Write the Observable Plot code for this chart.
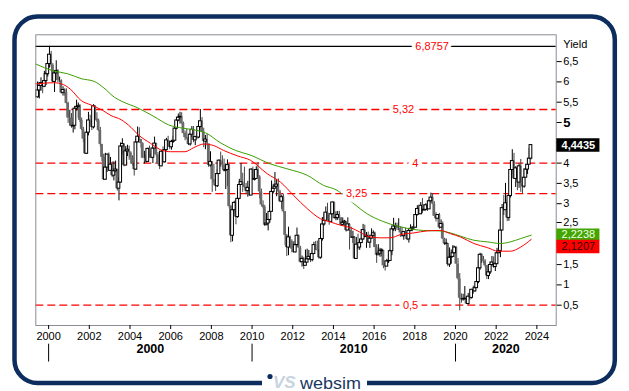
<!DOCTYPE html>
<html><head><meta charset="utf-8">
<script src="https://cdn.jsdelivr.net/npm/d3@7"></script>
<script src="https://cdn.jsdelivr.net/npm/@observablehq/plot@0.6"></script>
<style>
html,body{margin:0;padding:0;background:#fff;}
#wrap{position:relative;width:629px;height:391px;overflow:hidden;background:#fff;}
#wrap svg{position:absolute;left:0;top:0;}
</style></head><body><div id="wrap"></div>
<script>
// ---------- DATA ----------
const startYear = 1999, startMonth = 6; // first monthly candle: June 1999
const firstOpen = 5.62;
const closes = [
  5.79,5.90,5.97,5.88,6.02,6.19,6.44,
  6.67,6.41,6.00,6.21,6.27,6.03,6.03,5.73,5.80,5.75,5.47,5.11,
  5.11,4.90,4.92,5.34,5.38,5.41,5.05,4.83,4.59,4.23,4.75,5.05,
  5.03,4.88,5.40,5.09,5.04,4.80,4.46,4.14,3.59,3.89,4.21,3.81,
  3.96,3.69,3.80,3.84,3.37,3.52,4.41,4.47,3.94,4.29,4.33,4.25,
  4.13,3.97,3.84,4.51,4.65,4.58,4.48,4.12,4.12,4.03,4.35,4.22,
  4.13,4.36,4.48,4.20,3.98,3.92,4.28,4.02,4.32,4.56,4.49,4.39,
  4.52,4.55,4.85,5.05,5.12,5.14,4.98,4.73,4.63,4.60,4.46,4.70,
  4.82,4.56,4.64,4.63,4.89,5.03,4.76,4.53,4.58,4.47,3.94,4.03,
  3.59,3.51,3.43,3.73,4.06,3.98,3.95,3.81,3.83,3.95,2.93,2.21,
  2.84,3.02,2.67,3.12,3.46,3.53,3.48,3.40,3.31,3.39,3.20,3.84,
  3.59,3.61,3.83,3.66,3.29,2.97,2.91,2.47,2.51,2.60,2.80,3.29,
  3.37,3.42,3.47,3.29,3.05,3.16,2.80,2.22,1.92,2.17,2.07,1.88,
  1.80,1.98,2.21,1.91,1.56,1.64,1.47,1.55,1.63,1.69,1.61,1.76,
  1.98,1.87,1.85,1.67,2.13,2.49,2.58,2.78,2.61,2.55,2.74,3.03,
  2.64,2.65,2.72,2.65,2.48,2.53,2.56,2.34,2.49,2.34,2.16,2.17,
  1.64,1.99,1.92,2.03,2.12,2.35,2.18,2.21,2.04,2.14,2.21,2.27,
  1.92,1.73,1.77,1.83,1.85,1.47,1.45,1.58,1.59,1.83,2.37,2.44,
  2.45,2.39,2.39,2.28,2.20,2.30,2.29,2.12,2.33,2.38,2.41,2.41,
  2.72,2.87,2.74,2.95,2.83,2.85,2.96,2.86,3.06,3.15,2.99,2.69,
  2.63,2.72,2.41,2.50,2.13,2.01,2.02,1.50,1.67,1.69,1.78,1.92,
  1.51,1.15,0.67,0.64,0.65,0.66,0.53,0.71,0.68,0.88,0.84,0.92,
  1.07,1.41,1.74,1.63,1.58,1.47,1.22,1.31,1.49,1.55,1.44,1.51,
  1.78,1.83,2.34,2.89,2.84,3.01,2.65,3.19,3.83,4.05,3.61,3.87,
  3.52,3.92,3.47,3.42,3.64,3.84,3.96,4.11,4.4435
];
const highs = [
  6.00,5.98,6.10,6.00,6.26,6.24,6.47,
  6.8757,6.75,6.45,6.28,6.52,6.30,6.12,6.05,5.88,5.83,5.83,5.50,
  5.30,5.22,5.00,5.40,5.55,5.48,5.44,5.11,4.88,4.70,4.85,5.25,
  5.18,5.07,5.44,5.41,5.24,5.08,4.88,4.39,4.22,4.24,4.22,4.25,
  4.14,4.03,4.03,4.05,3.85,3.64,4.50,4.60,4.46,4.41,4.44,4.42,
  4.28,4.18,3.98,4.58,4.89,4.87,4.56,4.50,4.29,4.20,4.37,4.42,
  4.30,4.38,4.64,4.49,4.26,4.10,4.31,4.40,4.34,4.61,4.66,4.55,
  4.54,4.66,4.87,5.10,5.21,5.25,5.24,5.01,4.79,4.83,4.64,4.73,
  4.90,4.90,4.66,4.77,4.92,5.32,5.12,4.86,4.68,4.71,4.46,4.28,
  4.03,3.97,3.59,3.84,4.08,4.27,4.18,4.10,3.98,4.08,3.98,2.96,
  2.86,3.06,3.07,3.14,3.60,3.99,3.75,3.90,3.50,3.55,3.56,3.86,
  3.90,3.75,3.91,4.01,3.69,3.36,3.07,2.96,2.76,2.61,2.97,3.56,
  3.48,3.77,3.59,3.61,3.33,3.21,3.23,2.81,2.24,2.42,2.20,2.11,
  2.06,2.08,2.40,2.23,1.95,1.71,1.68,1.86,1.88,1.85,1.76,1.85,
  2.05,2.07,2.08,1.87,2.20,2.66,2.75,2.92,3.01,2.72,2.80,3.04,
  3.04,2.80,2.81,2.81,2.66,2.65,2.59,2.56,2.65,2.51,2.42,2.32,
  2.19,2.17,2.25,2.10,2.36,2.49,2.47,2.29,2.30,2.18,2.38,2.33,
  2.30,1.99,1.99,1.90,1.89,1.71,1.59,1.63,1.74,1.87,2.40,2.64,
  2.52,2.52,2.63,2.43,2.42,2.32,2.40,2.33,2.35,2.48,2.43,2.50,
  2.73,2.95,2.91,3.03,3.13,2.98,3.00,3.01,3.10,3.26,3.24,3.05,
  2.78,2.73,2.76,2.60,2.55,2.15,2.13,2.02,1.91,1.86,1.97,1.95,
  1.94,1.65,1.28,0.78,0.77,0.96,0.70,0.79,0.72,0.89,0.97,0.96,
  1.19,1.61,1.78,1.77,1.70,1.62,1.48,1.38,1.56,1.70,1.69,1.55,
  1.90,2.06,2.56,2.98,3.20,3.50,3.09,3.20,4.00,4.33,4.24,3.91,
  3.89,3.98,4.09,3.61,3.86,3.86,4.09,4.36,4.45
];
const lows = [
  5.60,5.58,5.77,5.71,5.86,5.91,6.12,
  6.34,6.36,5.98,5.74,6.17,5.98,5.98,5.70,5.65,5.65,5.45,4.98,
  4.91,4.86,4.74,4.82,5.28,5.10,5.00,4.80,4.50,4.22,4.21,4.67,
  4.97,4.80,4.84,5.07,5.00,4.78,4.40,4.04,3.57,3.58,3.77,3.80,
  3.82,3.64,3.56,3.76,3.31,3.07,3.51,4.19,3.91,3.93,4.16,4.07,
  3.98,3.93,3.68,3.82,4.50,4.55,4.37,4.11,3.98,3.99,4.02,4.12,
  4.11,3.99,4.36,4.16,3.97,3.84,3.91,4.01,4.00,4.30,4.39,4.33,
  4.32,4.49,4.55,4.82,5.02,4.96,4.96,4.71,4.55,4.58,4.43,4.42,
  4.63,4.50,4.43,4.58,4.60,4.85,4.75,4.38,4.33,4.42,3.89,3.89,
  3.28,3.45,3.30,3.40,3.72,3.90,3.84,3.78,3.35,3.42,2.89,2.04,
  2.06,2.73,2.48,2.64,3.10,3.45,3.28,3.38,3.22,3.16,3.19,3.20,
  3.58,3.56,3.61,3.65,3.12,2.94,2.87,2.44,2.46,2.33,2.52,2.81,
  3.24,3.37,3.17,3.27,3.04,2.86,2.77,1.97,1.70,1.72,1.91,1.79,
  1.79,1.79,1.96,1.90,1.54,1.44,1.38,1.48,1.59,1.61,1.55,1.57,
  1.80,1.85,1.82,1.63,1.63,2.08,2.45,2.57,2.60,2.47,2.55,2.73,
  2.63,2.58,2.59,2.59,2.44,2.44,2.44,2.30,2.33,1.86,2.15,2.02,
  1.64,1.65,1.86,1.85,2.09,2.10,2.16,1.90,2.02,1.90,2.13,2.14,
  1.92,1.53,1.73,1.68,1.69,1.40,1.34,1.50,1.53,1.59,1.72,2.32,
  2.31,2.34,2.34,2.17,2.18,2.10,2.24,2.09,2.03,2.31,2.31,2.34,
  2.40,2.70,2.73,2.73,2.76,2.83,2.82,2.81,2.86,3.04,2.98,2.68,
  2.55,2.61,2.37,2.39,2.12,1.97,1.97,1.45,1.43,1.51,1.69,1.76,
  1.51,1.12,0.36,0.55,0.60,0.62,0.52,0.50,0.62,0.65,0.77,0.82,
  0.91,1.03,1.36,1.53,1.53,1.43,1.13,1.13,1.26,1.47,1.41,1.33,
  1.63,1.78,1.67,2.33,2.71,2.88,2.56,2.57,3.14,3.72,3.60,3.40,
  3.32,3.38,3.28,3.25,3.38,3.64,3.72,3.96,4.08
];
// long moving average (green)
const greenT = [1999.37,2000.25,2000.94,2001.6,2002.25,2002.72,2003.24,2003.6,2004.38,2005.17,2005.9,2006.6,2007.13,2007.7,2008.45,2009.2,2009.9,2010.9,2011.72,2012.71,2013.52,2014.18,2014.7,2015.0,2015.66,2016.4,2017.2,2017.9,2018.44,2019.2,2019.76,2020.25,2020.9,2021.56,2022.21,2022.7,2023.2,2023.72];
const greenV = [6.44,6.27,6.20,6.08,6.01,5.85,5.62,5.52,5.36,5.15,4.94,4.86,4.82,4.75,4.50,4.31,4.20,3.98,3.86,3.70,3.45,3.33,3.12,3.00,2.75,2.57,2.44,2.37,2.34,2.33,2.28,2.20,2.10,2.06,2.02,2.06,2.14,2.2238];
// shorter moving average (red)
const redT = [1999.37,2000.25,2000.74,2001.07,2001.6,2002.09,2002.65,2003.07,2003.56,2004.05,2004.4,2005.0,2005.5,2006.0,2006.7,2007.13,2007.63,2008.12,2008.61,2009.27,2009.92,2010.74,2011.4,2012.05,2012.71,2013.36,2013.85,2014.35,2014.84,2015.3,2015.66,2016.31,2016.8,2017.3,2017.95,2018.61,2019.26,2019.76,2020.25,2020.9,2021.56,2022.1,2022.7,2023.2,2023.72];
const redV = [5.95,5.98,5.93,5.82,5.54,5.43,5.30,5.17,5.07,4.88,4.70,4.49,4.33,4.28,4.28,4.38,4.47,4.43,4.31,4.18,4.07,3.74,3.53,3.20,2.88,2.63,2.55,2.47,2.41,2.30,2.20,2.16,2.16,2.24,2.28,2.33,2.34,2.26,2.18,2.02,1.92,1.83,1.83,1.93,2.1207];
const levelValues = [6.8757, 5.32, 4, 3.25, 0.5];
const levelLabels = ["6,8757", "5,32", "4", "3,25", "0,5"];
const yTicks = [0.5,1,1.5,2,2.5,3,3.5,4,4.5,5,5.5,6,6.5];
const xTicks = [2000,2002,2004,2006,2008,2010,2012,2014,2016,2018,2020,2022,2024];
const decades = [2000, 2010, 2020];
const lastValue = 4.4435, greenLast = 2.2238, redLast = 2.1207;
const yLabel = "Yield";

// ---------- BUILD ----------
const fmt = v => String(v).replace(".", ",");
const candles = closes.map((c, i) => {
  const t = startYear + (startMonth - 1 + i + 0.5) / 12;
  const o = i === 0 ? firstOpen : closes[i - 1];
  return {t, o, c, h: Math.max(highs[i], o, c), l: Math.min(lows[i], o, c), up: c >= o};
});
const ups = candles.filter(d => d.up), downs = candles.filter(d => !d.up);
const green = greenT.map((t, i) => ({t, v: greenV[i]}));
const red = redT.map((t, i) => ({t, v: redV[i]}));
const xEnd = 2024.95;
const levelLabelAt = [2018.85, 2017.44, 2018.03, 2015.14, 2017.79];
const levels = levelValues.map((v, i) => ({v, label: levelLabels[i], at: levelLabelAt[i]}));
const hw = 0.068; // candle half width in years
const boxX1 = 2024.98, boxX2 = 2027.1, boxXc = 2026.04;
const hiddenTickLabels = [4.5, 2]; // covered by the value boxes in the reference
const F = "'Liberation Sans', Arial, Helvetica, sans-serif";
const axisOpts = {anchor: "right", tickSize: 5, tickPadding: 2, fontSize: 11, label: null};

const chart = Plot.plot({
  width: 629, height: 391,
  marginLeft: 35.3, marginRight: 73.3, marginTop: 34.3, marginBottom: 66,
  style: {fontFamily: F, background: "transparent", overflow: "visible", color: "black"},
  x: {domain: [1999.37, xEnd]},
  y: {domain: [0, 7.16]},
  marks: [
    Plot.ruleY([levelValues[0]], {stroke: "black", strokeWidth: 1.2}),
    Plot.ruleY(levelValues.slice(1), {stroke: "#ff0000", strokeWidth: 1.3, strokeDasharray: "8,4"}),
    Plot.ruleX(downs, {x: "t", y1: "l", y2: "h", stroke: "#444", strokeWidth: 1}),
    Plot.ruleX(ups, {x: "t", y1: "l", y2: "h", stroke: "#000", strokeWidth: 1}),
    Plot.rect(downs, {x1: d => d.t - hw, x2: d => d.t + hw, y1: "o", y2: "c", fill: "#6a6a6a"}),
    Plot.rect(ups, {x1: d => d.t - hw, x2: d => d.t + hw, y1: "o", y2: "c", fill: "white", stroke: "black", strokeWidth: 1}),
    Plot.line(green, {x: "t", y: "v", stroke: "#3c9f00", strokeWidth: 1, curve: "monotone-x"}),
    Plot.line(red, {x: "t", y: "v", stroke: "#ff0000", strokeWidth: 1, curve: "monotone-x"}),
    Plot.text(levels, {x: "at", y: "v", text: "label", fill: "#ff0000", stroke: "white", strokeWidth: 8, fontSize: 11}),
    Plot.frame({stroke: "#8c8c98", strokeWidth: 1}),
    Plot.axisY(yTicks.filter(v => v !== 5 && v !== 2.5), {...axisOpts,
      tickFormat: v => hiddenTickLabels.includes(v) ? "" : fmt(v)}),
    Plot.axisY([2.5], {...axisOpts, tickFormat: fmt, dy: -1.5}),
    Plot.axisY([5], {...axisOpts, fontSize: 13, fontWeight: "bold", tickFormat: fmt}),
    Plot.text([yLabel], {text: d => d, frameAnchor: "top-right", dx: 7, dy: 5, textAnchor: "start", fontSize: 11}),
    Plot.axisX(xTicks, {anchor: "bottom", tickSize: 4, tickPadding: 3, fontSize: 11, tickFormat: d => String(d), label: null}),
    Plot.text(decades, {x: d => (d + Math.min(d + 10, xEnd)) / 2, frameAnchor: "bottom", dy: 27, text: d => String(d), fontWeight: "bold", fontSize: 12.5}),
    Plot.ruleX(decades, {x: d => d, y1: -0.46, y2: -0.9, stroke: "black", strokeWidth: 1}),
    Plot.ruleY([lastValue], {x1: boxX1, x2: boxX2, stroke: "black", strokeWidth: 13.5}),
    Plot.text([lastValue], {x: boxXc, y: d => d, text: fmt, fill: "white", fontWeight: "bold", fontSize: 11}),
    Plot.ruleY([greenLast], {x1: boxX1, x2: boxX2, stroke: "#43a500", strokeWidth: 12, dy: -0.6}),
    Plot.text([greenLast], {x: boxXc, y: d => d, dy: -0.5, text: fmt, fill: "#f0ffe8", fontSize: 11}),
    Plot.ruleY([redLast], {x1: boxX1, x2: boxX2, stroke: "#ff0000", strokeWidth: 13.5, dy: 7.2}),
    Plot.text([redLast], {x: boxXc, y: d => d, dy: 7.4, text: fmt, fill: "#3a0000", fontSize: 11})
  ]
});
const wrap = document.getElementById("wrap");
wrap.appendChild(chart);

// decorative outer frame + logo
const ov = d3.select(wrap).append("svg").attr("width", 629).attr("height", 391)
  .style("pointer-events", "none");
ov.append("rect").attr("x", 14.5).attr("y", 16.5).attr("width", 600.3).attr("height", 366.5)
  .attr("rx", 23).attr("fill", "none").attr("stroke", "#0c2d5e").attr("stroke-width", 4.5);
ov.append("rect").attr("x", 262).attr("y", 377).attr("width", 105).attr("height", 14).attr("fill", "white");
ov.append("circle").attr("cx", 270).attr("cy", 376.5).attr("r", 2.6).attr("fill", "#0c2d5e");
ov.append("text").attr("x", 273).attr("y", 387.5).attr("font-family", F).attr("font-size", 17)
  .attr("font-style", "italic").attr("font-weight", "bold").attr("fill", "#c9d3de").text("VS");
ov.append("text").attr("x", 300).attr("y", 388.5).attr("font-family", F).attr("font-size", 17)
  .attr("textLength", 61).attr("lengthAdjust", "spacingAndGlyphs").attr("fill", "#1b3764").text("websim");
</script>
</body></html>
